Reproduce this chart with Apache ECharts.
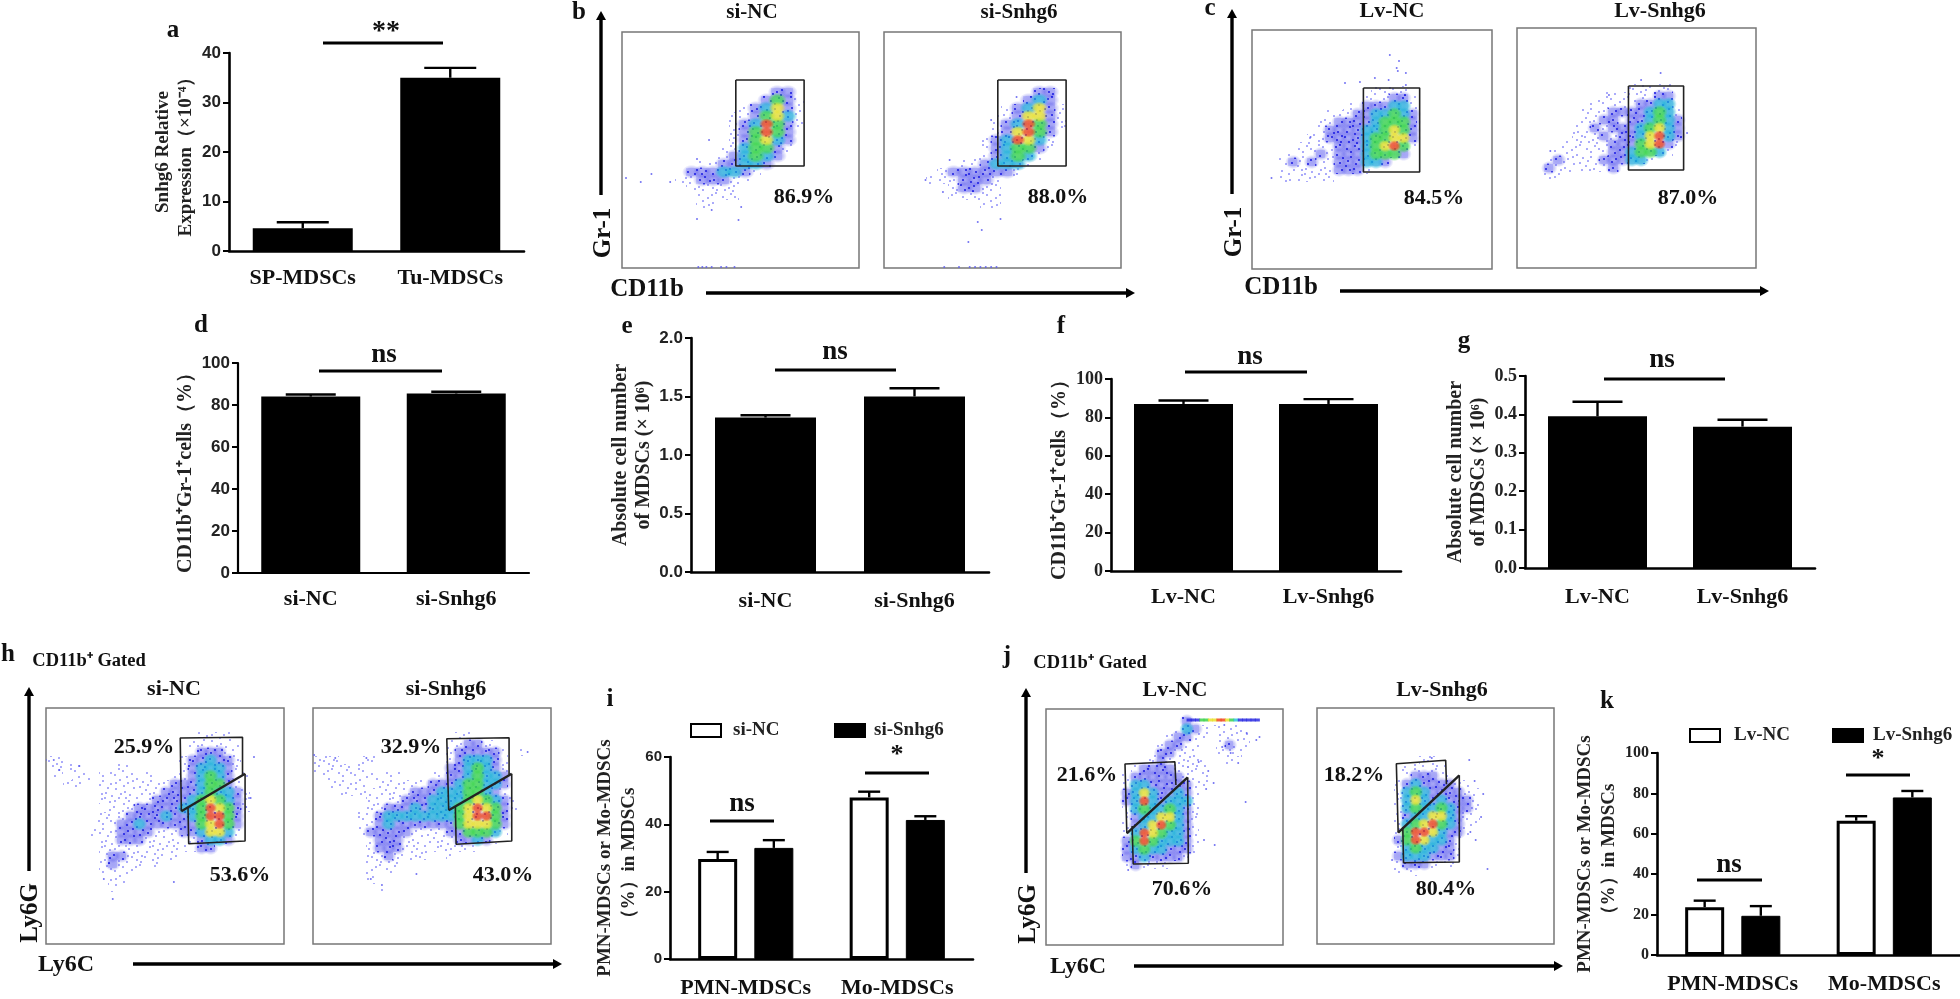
<!DOCTYPE html>
<html><head><meta charset="utf-8">
<style>html,body{margin:0;padding:0;background:#fff}#c{width:1960px;height:999px}</style>
<script src="https://cdn.jsdelivr.net/npm/echarts@6/dist/echarts.min.js"></script>
</head><body><div id="c"></div>
<script>
// ---------- bar chart data ----------
const aCats=['SP-MDSCs','Tu-MDSCs'], aVals=[4.6,35], aTops=[5.8,37];
const dCats=['si-NC','si-Snhg6'], dVals=[84,85.5], dTops=[85,86.3];
const eCats=['si-NC','si-Snhg6'], eVals=[1.32,1.5], eTops=[1.34,1.57];
const fCats=['Lv-NC','Lv-Snhg6'], fVals=[87,87], fTops=[88.8,89.5];
const gCats=['Lv-NC','Lv-Snhg6'], gVals=[0.395,0.368], gTops=[0.433,0.386];
const iCats=['PMN-MDSCs','Mo-MDSCs'];
const iNC=[29.7,48], iNCTop=[31.8,49.7], iSi=[33,41.3], iSiTop=[35.3,42.4];
const kCats=['PMN-MDSCs','Mo-MDSCs'];
const kNC=[23.7,66.5], kNCTop=[26.9,68.7], kLv=[19.4,78], kLvTop=[24.2,81.2];

// ---------- flow cytometry density (0-6 per cell), gates and stray events ----------
const b1Rows=["..........22.",".........2421",".......123521","......1124531","......1236421","......124642.","......124532.",".....1134421.",".....123432..","...1122332...","..2223321....",".1122211.....","..11111......","...1111......","...11........"];
const b2Rows=["..........22.",".........232.",".......123521","......1125521","......1236421","......125642.",".....1236531.",".....1234421.","....1123431..","...1123331...",".12222221....","1112221......","..12211......","..11111......",".....11......"];
const c1Rows=["..........1111.",".........111221",".......11222331",".....1112233432","....11222234442","....12222334542","...112222344552","..1111222345641",".1112122234442.","121211222332...","1111112221.....","111111........."];
const c2Rows=[".........11111.","......11111122.",".....1111122331","....11122223431","....11221223432","...112122234532","...111212235632","..1111122245621",".1111112234431.","121111222331...","211111121......","11............."];
const h1Rows=[".................1111...","................111111..","................122211..","11.............1223221..","1111....11.....1233321..",".1.11.111111..112343211.","..11..1111111122234421..","......11111112222343321.","......11111122223454321.",".......1112222233465421.","......1112222322346642..",".....11122322222245642..",".....11122221112235531..","......112221111112332...","......1111111111122.....","......122111111.........","......12111.1...........","......1111..............",".......11...............",".......1................"];
const h2Rows=["................11......","...............112211...","...............1222221.1","111..11........1233321..","111111.........2234321..",".111111111...112234332..","..1111.111111222344332..","...1111111122233344321..","......11112223333454321.","......11222323334565421.",".....11233333333456642..",".....11232222222455542..",".....12222211112244431..","......122211111122321...","......1222111111111.....","......1121111..1........","......1111..............","......1.1...............","......1.................",".......1................"];
const j1Rows=[".......2........","......132111111.",".....12211.1111.","....12211..1211.","...122111..111..","...1211111..1...",".122221111......","1222222111......","1332222211......","235322321.......","236323331.......","134334321.......","123355321.......","123564321.......","136543321.......","246433321.......","234332221.......","22322221........","121111.........."];
const j2Rows=["...11......",".11111.....",".122211....","123222211..","1343222211.","1353232221.","1343343221.","1233553211.","1345643211.","146653221..","24653321...","13433221...","23332221...","1222111....","111........"];

const b1Gate=[[[85,48],[136,48],[136,134],[85,134],[85,48]]];
const b2Gate=[[[85,48],[136,48],[136,134],[85,134],[85,48]]];
const c1Gate=[[[97,58],[146,58],[146,142],[97,142],[97,58]]];
const c2Gate=[[[97,58],[145,58],[145,142],[97,142],[97,58]]];
const h1Gate=[[[121.7,103.3],[120.7,30],[176.7,29.3],[176.7,66.7]],[[127.7,100],[128.3,135.7],[179,133],[179,65.7]],[[121.7,103.3],[179,65.7]]];
const h2Gate=[[[122,102.3],[120.3,30.7],[176.3,29.7],[176.3,66.7]],[[128,98],[128.7,136.3],[178.7,133],[178.7,65.7]],[[122,102.3],[178.7,65.7]]];
const j1Gate=[[[75.7,124.3],[74,55],[120.7,52.7],[121.7,76]],[[80.7,117],[81.7,155],[133.3,154.3],[132.7,68.3]],[[75.7,124.3],[132.7,68.3]]];
const j2Gate=[[[75.7,124.7],[74,55.7],[120,52.3],[120.7,76.3]],[[80,119],[80.7,154.7],[132.7,154],[132.7,67.3]],[[75.7,124.7],[132.7,67.3]]];

const b1Dots=[[3,146],[14,150],[22,142],[36,150],[56,187],[67,178],[87,188],[89,175],[65,108],[56,127],[57,235],[60,235],[63,235],[67,235],[74,235],[78,235],[84,235]];
const b2Dots=[[31,148],[44,160],[49,128],[63,210],[70,190],[73,198],[87,187],[80,88],[99,65],[45,235],[56,235],[64,235],[68,235],[72,235],[76,235],[80,235],[84,235]];
const c1Dots=[[120,25],[128,31],[126,38],[134,43],[119,50],[134,55],[127,41],[81,53],[94,52],[107,48],[17,148],[51,107]];
const c2Dots=[[125,45],[108,52],[29,123],[148,105],[80,67]];
const h1Dots=[[7,52],[187,49],[60,191],[52,171],[115,174],[180,99],[184,90],[12,62],[30,58]];
const h2Dots=[[193,44],[52,171],[62,177],[93,166],[1,47],[20,50],[48,50]];
const j1Dots=[[187,93],[157,74],[158,136],[148,131],[200,28],[167,16],[197,31],[180,54],[173,44],[143,53],[133,58],[77,161],[165,38],[188,24],[150,80],[152,62]];
const j2Dots=[[142,52],[155,86],[159,161],[107,50],[153,109],[148,132],[143,124],[147,73],[70,152]];
const j1Strip=[[134,2],[138,2],[142,2],[146,4],[150,4],[154,5],[158,5],[162,6],[166,6],[170,5],[174,4],[178,3],[182,2],[186,2],[190,2],[194,2],[198,2]];

// hand-placed stipple used as the fill texture of sparse cells
const grainA=[[3,5],[11,2],[19,7],[27,3],[36,6],[44,1],[7,13],[15,16],[24,12],[32,15],[41,11],[2,22],[10,25],[20,21],[29,24],[38,20],[46,26],[6,31],[14,34],[23,30],[33,33],[42,36],[1,41],[9,44],[18,39],[27,43],[36,41],[45,46],[13,47],[31,46]];
const grainB=[[7,8],[15,5],[23,1],[31,9],[40,3],[47,14],[4,17],[12,20],[20,15],[28,18],[37,13],[44,19],[6,26],[16,28],[25,26],[34,27],[41,30],[3,36],[11,38],[19,33],[28,36],[38,37],[46,40],[5,46],[14,42],[23,45],[32,40],[41,44],[9,30],[30,30]];

const serif="'Liberation Serif',serif", sans="'Liberation Sans',sans-serif";
const grid=[],xAxis=[],yAxis=[],series=[],legend=[],graphic=[];
function tile(bg,dots,color,r){
  const cv=document.createElement('canvas');cv.width=cv.height=48;const x=cv.getContext('2d');
  if(bg){x.fillStyle=bg;x.fillRect(0,0,48,48);}
  x.fillStyle=color;dots.forEach(d=>{x.beginPath();x.arc(d[0],d[1],r,0,6.3);x.fill();});
  return {image:cv,repeat:'repeat'};
}
const grainAll=grainA.concat(grainB);
const grainFill=[null,
  tile(null,grainAll,'rgba(95,95,245,.75)',.95),
  tile('rgba(110,110,255,.22)',grainAll,'rgba(25,25,225,.95)',1.1)];
const peakColor={2:[28,28,225],3:[20,175,215],4:[55,215,70],5:[235,228,35],6:[240,60,16]};
const peakScale={2:1.8,3:1.8,4:1.8,5:1.6,6:1.45}, peakAlpha={2:.38,3:.9,4:1,5:1,6:1};
function rgba(c,a){return `rgba(${c[0]},${c[1]},${c[2]},${a})`}
function blob(c,a){return {type:'radial',x:.5,y:.5,r:.5,colorStops:[{offset:0,color:rgba(c,a)},{offset:.55,color:rgba(c,a*.88)},{offset:1,color:rgba(c,0)}]}}

function flow(x,y,w,h,dom,rows,x0,y0,dots,gates,strip){
  const idx=grid.length,sx=w/dom;
  grid.push({left:x,top:y,width:w,height:h,show:true,borderColor:'#777',borderWidth:1.5,backgroundColor:'#fff'});
  xAxis.push({type:'value',gridIndex:idx,min:0,max:dom,show:false});
  yAxis.push({type:'value',gridIndex:idx,min:0,max:h,inverse:true,show:false});
  const cells=[];
  rows.forEach((r,ri)=>[...r].forEach((ch,ci)=>{if(ch!=='.')cells.push([x0+8*ci+4,y0+8*ri+4,+ch]);}));
  series.push({type:'custom',xAxisIndex:idx,yAxisIndex:idx,data:cells,silent:true,encode:{x:0,y:1},
    renderItem(p,api){
      const c=api.coord([api.value(0),api.value(1)]),s=api.size([8,8]),lv=Math.min(api.value(2),2);
      const x1=Math.floor(c[0]-s[0]/2),y1=Math.floor(c[1]-s[1]/2),x2=Math.floor(c[0]+s[0]/2),y2=Math.floor(c[1]+s[1]/2);
      return {type:'rect',shape:{x:x1,y:y1,width:x2-x1,height:y2-y1},style:{fill:grainFill[lv]}};
    }});
  [2,3,4,5,6].forEach(lv=>series.push({type:'scatter',xAxisIndex:idx,yAxisIndex:idx,silent:true,
    data:cells.filter(c=>c[2]===lv).map(c=>[c[0],c[1]]),
    symbolSize:[8*sx*peakScale[lv],8*peakScale[lv]],itemStyle:{color:blob(peakColor[lv],peakAlpha[lv])}}));
  series.push({type:'scatter',xAxisIndex:idx,yAxisIndex:idx,data:dots,symbolSize:2,itemStyle:{color:'#5a5af0',opacity:.85},silent:true});
  if(strip){const col=[0,0,'#2020e0','#20c0d8','#30d040','#e8e020','#f03c10'];
    series.push({type:'scatter',xAxisIndex:idx,yAxisIndex:idx,silent:true,symbolSize:[5,3],symbol:'rect',
      data:strip.map(p=>({value:[p[0],11],itemStyle:{color:col[p[1]]}}))});}
  gates.forEach((g,i)=>series.push({type:'line',xAxisIndex:idx,yAxisIndex:idx,data:g,showSymbol:false,z:5,lineStyle:{color:'#222',width:(gates.length===3&&i===2)?2.4:1.6},silent:true}));
}
function errorSeries(idx,tops,vals,cap,layout,which){
  series.push({type:'custom',xAxisIndex:idx,yAxisIndex:idx,z:4,silent:true,
    data:tops.map((t,i)=>[i,vals[i],t]),encode:{x:0,y:[1,2]},
    renderItem(p,api){
      const k=api.value(0),lo=api.coord([k,api.value(1)]),hi=api.coord([k,api.value(2)]);
      const cx=lo[0]+(layout?api.barLayout(layout)[which].offsetCenter:0);
      return {type:'group',children:[
        {type:'line',shape:{x1:cx,y1:lo[1],x2:cx,y2:hi[1]},style:{stroke:'#000',lineWidth:2.4}},
        {type:'line',shape:{x1:cx-cap/2,y1:hi[1],x2:cx+cap/2,y2:hi[1]},style:{stroke:'#000',lineWidth:2.4}}]};
    }});
}
function axes(idx,c){
  xAxis.push({type:'category',gridIndex:idx,data:c.cats,
    axisLine:{lineStyle:{color:'#000',width:c.lw||2.6}},axisTick:{alignWithLabel:true,length:6,lineStyle:{color:'#000',width:2}},
    axisLabel:{fontFamily:serif,fontWeight:'bold',fontSize:c.catSize,color:'#111',margin:c.catMargin,interval:0},splitLine:{show:false}});
  yAxis.push({type:'value',gridIndex:idx,min:0,max:c.max,interval:c.step,name:c.name,nameLocation:'middle',nameRotate:90,nameGap:c.nameGap,
    nameTextStyle:{fontFamily:serif,fontWeight:'bold',fontSize:c.nameSize,color:'#222',lineHeight:c.nameLH||23},
    axisLine:{show:true,lineStyle:{color:'#000',width:c.lw||2.6}},axisTick:{show:true,length:6,lineStyle:{color:'#000',width:2}},
    axisLabel:{fontFamily:c.tickFont||sans,fontWeight:'bold',fontSize:c.tickSize||15,color:'#222',margin:8,formatter:c.dec?(v=>v.toFixed(c.dec)):undefined},splitLine:{show:false}});
}
function bars(left,y0,w,top,c){
  const idx=grid.length;
  grid.push({left,top,width:w,height:y0-top});
  axes(idx,c);
  series.push({type:'bar',xAxisIndex:idx,yAxisIndex:idx,data:c.vals,barWidth:c.barW,itemStyle:{color:'#000'}});
  errorSeries(idx,c.tops,c.vals,c.cap);
}
function groupBars(left,y0,w,top,c){
  const idx=grid.length;
  grid.push({left,top,width:w,height:y0-top});
  axes(idx,c);
  const bw=c.barW,gap=c.barGap,lay={count:2,barWidth:bw,barGap:gap};
  series.push({type:'bar',name:c.names[0],xAxisIndex:idx,yAxisIndex:idx,data:c.v0,barWidth:bw,barGap:gap,itemStyle:{color:'#fff',borderColor:'#000',borderWidth:3}});
  series.push({type:'bar',name:c.names[1],xAxisIndex:idx,yAxisIndex:idx,data:c.v1,barWidth:bw,barGap:gap,itemStyle:{color:'#000',borderColor:'#000',borderWidth:1}});
  errorSeries(idx,c.t0,c.v0,c.cap,lay,0);
  errorSeries(idx,c.t1,c.v1,c.cap,lay,1);
  c.names.forEach((n,i)=>legend.push({data:[n],left:c.legX[i],top:c.legY,padding:0,itemWidth:30,itemHeight:13,icon:'rect',
    textStyle:{fontFamily:serif,fontWeight:'bold',fontSize:19,color:'#222',padding:[0,0,0,c.legPad[i]]},selectedMode:false}));
}

// ---------- panels ----------
bars(229,251,295,53,{cats:aCats,vals:aVals,tops:aTops,max:40,step:10,barW:100,cap:52,catSize:22,catMargin:16,tickSize:17,
  name:'Snhg6 Relative\nExpression（×10⁻⁴）',nameGap:31,nameSize:19});
bars(238,573,291,363,{cats:dCats,vals:dVals,tops:dTops,max:100,step:20,barW:99,cap:50,catSize:22,catMargin:15,tickSize:17,lw:2.2,
  name:'CD11b⁺Gr-1⁺cells（%）',nameGap:34,nameSize:20});
bars(691,572,298,338,{cats:eCats,vals:eVals,tops:eTops,max:2,step:.5,dec:1,barW:101,cap:50,catSize:22,catMargin:18,tickSize:17,
  name:'Absolute cell number\nof MDSCs (× 10⁶)',nameGap:30,nameSize:20});
bars(1111,571,290,379,{cats:fCats,vals:fVals,tops:fTops,max:100,step:20,barW:99,cap:50,catSize:22,catMargin:15,tickSize:18,tickFont:serif,
  name:'CD11b⁺Gr-1⁺cells（%）',nameGap:40,nameSize:20});
bars(1525,568,290,376,{cats:gCats,vals:gVals,tops:gTops,max:.5,step:.1,dec:1,barW:99,cap:50,catSize:22,catMargin:18,tickSize:18,tickFont:serif,
  name:'Absolute cell number\nof MDSCs (× 10⁶)',nameGap:35,nameSize:20});
groupBars(670,959,303,757,{cats:iCats,names:['si-NC','si-Snhg6'],v0:iNC,t0:iNCTop,v1:iSi,t1:iSiTop,max:60,step:20,barW:39,barGap:'44%',cap:22,catSize:22,catMargin:18,tickSize:15,
  name:'PMN-MDSCs or Mo-MDSCs\n（%）in MDSCs',nameGap:19,nameSize:19,nameLH:24,legX:[690,834],legY:721,legPad:[7,4]});
groupBars(1657,955,306,753,{cats:kCats,names:['Lv-NC','Lv-Snhg6'],v0:kNC,t0:kNCTop,v1:kLv,t1:kLvTop,max:100,step:20,barW:39,barGap:'44%',cap:22,catSize:22,catMargin:18,tickSize:16,tickFont:serif,
  name:'PMN-MDSCs or Mo-MDSCs\n（%）in MDSCs',nameGap:28,nameSize:19,nameLH:24,legX:[1689,1832],legY:726,legPad:[9,5]});

flow(622,32,237,236,177,b1Rows,32,56,b1Dots,b1Gate);
flow(884,32,237,236,177,b2Rows,32,56,b2Dots,b2Gate);
flow(1252,30,240,239,209,c1Rows,24,56,c1Dots,c1Gate);
flow(1517,28,239,240,208,c2Rows,24,56,c2Dots,c2Gate);
flow(46,708,238,236,214,h1Rows,0,24,h1Dots,h1Gate);
flow(313,708,238,236,214,h2Rows,0,24,h2Dots,h2Gate);
flow(1046,709,237,236,222,j1Rows,72,8,j1Dots,j1Gate,j1Strip);
flow(1317,708,237,236,221,j2Rows,72,48,j2Dots,j2Gate);

// ---------- annotations ----------
function T(text,x,y,size,rot,family){
  graphic.push({type:'text',x,y,rotation:rot?Math.PI/2:0,z:20,silent:true,
    style:{text,fill:'#111',font:`bold ${size}px ${family||serif}`,textAlign:'center',textVerticalAlign:'middle',verticalAlign:'middle'}});
}
function L(x1,y1,x2,y2,w){graphic.push({type:'line',z:20,silent:true,shape:{x1,y1,x2,y2},style:{stroke:'#000',lineWidth:w||2.8}});}
function arrowUp(x,y1,y2){L(x,y1,x,y2+7,3.4);graphic.push({type:'polygon',z:20,silent:true,shape:{points:[[x-5,y2+9],[x+5,y2+9],[x,y2]]},style:{fill:'#000'}});}
function arrowRight(x1,x2,y){L(x1,y,x2-7,y,3.4);graphic.push({type:'polygon',z:20,silent:true,shape:{points:[[x2-9,y-5],[x2-9,y+5],[x2,y]]},style:{fill:'#000'}});}
[['a',173,31],['b',579,13],['c',1210,9],['d',201,326],['e',627,327],['f',1061,327],['g',1464,342],['h',8,655],['i',610,700],['j',1007,657],['k',1607,702]].forEach(p=>T(p[0],p[1],p[2],25));
// significance marks
[['**',386,32,28,323,443,43],['ns',384,355,27,319,442,371],['ns',835,352,27,775,896,370],['ns',1250,357,27,1185,1307,372],['ns',1662,360,27,1604,1725,379],
 ['ns',742,804,27,710,774,821],['*',897,755,26,865,929,773],['ns',1729,865,27,1697,1762,880],['*',1878,759,26,1846,1910,775]].forEach(s=>{T(s[0],s[1],s[2],s[3]);L(s[4],s[6],s[5],s[6]);});
// flow titles and percentages
[['si-NC',752,13,21],['si-Snhg6',1019,13,21],['86.9%',804,197,22],['88.0%',1058,197,22],
 ['Lv-NC',1392,11,22],['Lv-Snhg6',1660,11,22],['84.5%',1434,198,22],['87.0%',1688,198,22],
 ['si-NC',174,689,22],['si-Snhg6',446,689,22],['25.9%',144,747,22],['53.6%',240,875,22],['32.9%',411,747,22],['43.0%',503,875,22],
 ['Lv-NC',1175,690,22],['Lv-Snhg6',1442,690,22],['21.6%',1087,775,22],['70.6%',1182,889,22],['18.2%',1354,775,22],['80.4%',1446,889,22],
 ['CD11b',647,290,25],['CD11b',1281,288,25],['Ly6C',66,965,24],['Ly6C',1078,967,24],
 ['CD11b⁺ Gated',89,661,18.5],['CD11b⁺ Gated',1090,663,18.5]].forEach(p=>T(p[0],p[1],p[2],p[3]));
[['Gr-1',604,233,25],['Gr-1',1235,232,25],['Ly6G',31,913,25],['Ly6G',1029,914,25]].forEach(p=>T(p[0],p[1],p[2],p[3],true));
arrowUp(601,195,11);arrowRight(706,1135,293);
arrowUp(1232,194,9);arrowRight(1340,1769,291);
arrowUp(29,871,687);arrowRight(133,562,964);
arrowUp(1026,873,688);arrowRight(1134,1563,966);

const chart=echarts.init(document.getElementById('c'),null,{renderer:'canvas',width:1960,height:999});
chart.setOption({animation:false,backgroundColor:'#fff',grid,xAxis,yAxis,series,legend,graphic});
</script></body></html>
